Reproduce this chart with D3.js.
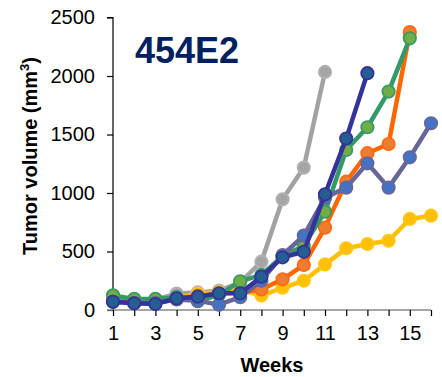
<!DOCTYPE html>
<html>
<head>
<meta charset="utf-8">
<script src="https://cdn.jsdelivr.net/npm/d3@7"></script>
<style>
  html, body { margin: 0; padding: 0; background: #fff; }
  text { font-family: "Liberation Sans", Arial, sans-serif; }
</style>
</head>
<body>
<svg id="chart" width="442" height="377"></svg>
<script>
const weeks = [1,2,3,4,5,6,7,8,9,10,11,12,13,14,15,16];
const gray     = [100, 85, 90, 140, 150, 165, 235, 413, 946, 1217, 2035];
const yellow   = [80, 70, 70, 100, 140, 150, 170, 125, 190, 250, 390, 527, 564, 592, 778, 806];
const orange   = [80, 70, 70, 100, 120, 140, 150, 175, 262, 385, 704, 1097, 1340, 1419, 2375];
const green    = [125, 95, 95, 110, 75, 130, 245, 300, 460, 550, 840, 1368, 1562, 1867, 2322];
const slate    = [70, 60, 60, 90, 80, 45, 110, 250, 470, 636, 960, 1046, 1254, 1046, 1305, 1596];
const darkblue = [70, 57, 51, 100, 114, 143, 143, 285, 450, 498, 989, 1465, 2024];
const yTicks = [0, 500, 1000, 1500, 2000, 2500];
const xTickLabels = [1, 3, 5, 7, 9, 11, 13, 15];

const series = [
  {values: gray,     line: "#a2a2a2", fill: "#a5a5a5", stroke: "#b2b2b2"},
  {values: yellow,   line: "#ffc000", fill: "#ffc000", stroke: "#ffc61a"},
  {values: orange,   line: "#ff6600", fill: "#ed7d31", stroke: "#ff6a10"},
  {values: green,    line: "#339966", fill: "#70ad47", stroke: "#3a9a62"},
  {values: slate,    line: "#666699", fill: "#4472c4", stroke: "#666699"},
  {values: darkblue, line: "#333399", fill: "#255e91", stroke: "#333399"}
];

const svg = d3.select("#chart");
const x = d3.scaleLinear().domain([1, 16]).range([113, 431]);
const y = d3.scaleLinear().domain([0, 2500]).range([310, 17.5]);

// y axis
const yAxis = svg.append("g").attr("transform", "translate(113,0)")
  .call(d3.axisLeft(y).tickValues(yTicks).tickSize(6).tickPadding(12).tickFormat(d3.format("d")));
yAxis.select(".domain").attr("stroke", "#000").attr("stroke-width", 1.2).attr("d", `M-6,${y(2500)}H0V${y(0)}`);
yAxis.selectAll(".tick line").attr("stroke", "#000").attr("stroke-width", 1.2);
yAxis.selectAll(".tick text").attr("font-size", 20).attr("fill", "#000")
  .attr("font-family", "'Liberation Sans', Arial, sans-serif");

// x axis
const xAxis = svg.append("g").attr("transform", `translate(0,${y(0)})`)
  .call(d3.axisBottom(x).tickValues(weeks).tickSize(6).tickPadding(10)
    .tickFormat(d => xTickLabels.includes(d) ? d : ""));
xAxis.select(".domain").attr("stroke", "#888").attr("stroke-width", 1.5).attr("d", `M107,0H${x(16)}`);
xAxis.selectAll(".tick line").attr("stroke", "#000").attr("stroke-width", 1.2);
xAxis.selectAll(".tick text").attr("font-size", 20).attr("fill", "#000")
  .attr("font-family", "'Liberation Sans', Arial, sans-serif");

// series
const line = d3.line().x((d, i) => x(weeks[i])).y(d => y(d));
series.forEach(s => {
  const g = svg.append("g");
  g.append("path").attr("d", line(s.values)).attr("fill", "none")
    .attr("stroke", s.line).attr("stroke-width", 4.5).attr("stroke-linejoin", "round");
  g.selectAll("circle").data(s.values).join("circle")
    .attr("cx", (d, i) => x(weeks[i])).attr("cy", d => y(d)).attr("r", 6.2)
    .attr("fill", s.fill).attr("stroke", s.stroke).attr("stroke-width", 1.8);
});

// title
svg.append("text").attr("x", 135).attr("y", 63).attr("font-size", 36).attr("font-weight", "bold")
  .attr("fill", "#002060").text("454E2");

// x label
svg.append("text").attr("x", 272).attr("y", 372).attr("text-anchor", "middle")
  .attr("font-size", 20).attr("font-weight", "bold").attr("fill", "#000").text("Weeks");

// y label
const yl = svg.append("text").attr("transform", "translate(37,156) rotate(-90)")
  .attr("text-anchor", "middle").attr("font-size", 20).attr("font-weight", "bold").attr("fill", "#000");
yl.append("tspan").text("Tumor volume (mm");
yl.append("tspan").attr("font-size", 13).attr("dy", -8).text("3");
yl.append("tspan").attr("dy", 8).text(")");
</script>
</body>
</html>
